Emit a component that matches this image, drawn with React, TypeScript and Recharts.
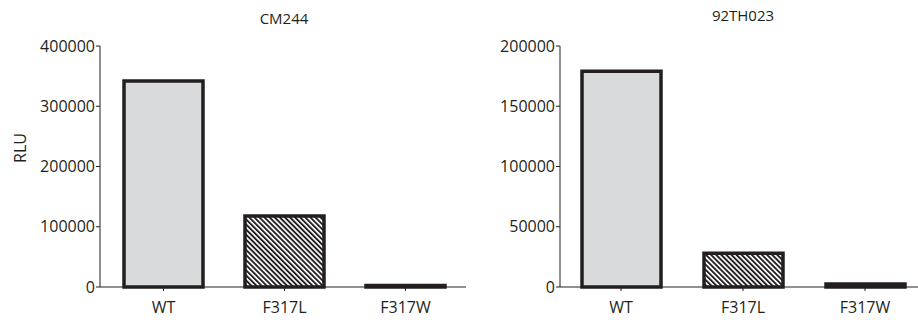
import React from "react";
import { BarChart, Bar, XAxis, YAxis, Cell } from "recharts";

const categories = ["WT", "F317L", "F317W"];
const cm244Values = [342000, 118000, 2500];
const th023Values = [179000, 28000, 2500];
const cm244Ticks = [0, 100000, 200000, 300000, 400000];
const th023Ticks = [0, 50000, 100000, 150000, 200000];

const INK = "#231f20";
const FONT = "'Open Sans', sans-serif";
const fills = ["#d9dadc", "url(#hatch)", INK];

const tickStyle = { fill: INK, fontSize: 16, fontFamily: FONT };

function HatchDefs({ id }: { id: string }) {
  return (
    <defs>
      <pattern
        id={id}
        width={3.6}
        height={3.6}
        patternUnits="userSpaceOnUse"
        patternTransform="rotate(-45)"
      >
        <rect width={3.6} height={3.6} fill="#ffffff" />
        <rect width={1.9} height={3.6} fill={INK} />
      </pattern>
    </defs>
  );
}

function Panel({
  values,
  ticks,
  max,
  width,
  hatchId,
  padLeft,
}: {
  values: number[];
  ticks: number[];
  max: number;
  width: number;
  hatchId: string;
  padLeft: number;
}) {
  const data = categories.map((name, i) => ({ name, value: values[i] }));
  return (
    <BarChart
      width={width}
      height={320}
      data={data}
      margin={{ top: 46, right: 0, bottom: 3, left: 0 }}
      barSize={79}
    >
      <HatchDefs id={hatchId} />
      <XAxis
        dataKey="name"
        tickLine={{ stroke: INK }}
        axisLine={{ stroke: INK }}
        tick={tickStyle}
        tickSize={4}
        tickMargin={11}
        height={30}
        interval={0}
        padding={{ left: padLeft, right: 0 }}
      />
      <YAxis
        type="number"
        domain={[0, max]}
        ticks={ticks}
        interval={0}
        width={100}
        tickLine={{ stroke: INK }}
        axisLine={{ stroke: INK }}
        tick={tickStyle}
        tickSize={4}
        tickMargin={1}
      />
      <Bar dataKey="value" stroke={INK} strokeWidth={3.5} isAnimationActive={false}>
        {data.map((d, i) => (
          <Cell key={d.name} fill={fills[i].replace("hatch", hatchId)} />
        ))}
      </Bar>
    </BarChart>
  );
}

export default function App() {
  return (
    <div
      style={{
        position: "absolute",
        left: 0,
        top: 0,
        width: 918,
        height: 320,
        overflow: "hidden",
        background: "#ffffff",
        fontFamily: FONT,
        color: INK,
      }}
    >
      <div style={{ position: "absolute", left: 0, top: 0 }}>
        <Panel values={cm244Values} ticks={cm244Ticks} max={400000} width={466} hatchId="hatchA" padLeft={3} />
      </div>
      <div style={{ position: "absolute", left: 460, top: 0 }}>
        <Panel values={th023Values} ticks={th023Ticks} max={200000} width={466} hatchId="hatchB" padLeft={0} />
      </div>
      <div
        style={{
          position: "absolute",
          left: 184,
          width: 200,
          top: 7,
          textAlign: "center",
          fontSize: 15,
          lineHeight: "22px",
        }}
      >
        CM244
      </div>
      <div
        style={{
          position: "absolute",
          left: 643,
          width: 200,
          top: 4,
          textAlign: "center",
          fontSize: 15,
          lineHeight: "22px",
        }}
      >
        92TH023
      </div>
      <div
        style={{
          position: "absolute",
          left: 20 - 30,
          top: 148 - 11,
          width: 60,
          height: 22,
          lineHeight: "22px",
          textAlign: "center",
          fontSize: 16,
          transform: "rotate(-90deg)",
        }}
      >
        RLU
      </div>
    </div>
  );
}
